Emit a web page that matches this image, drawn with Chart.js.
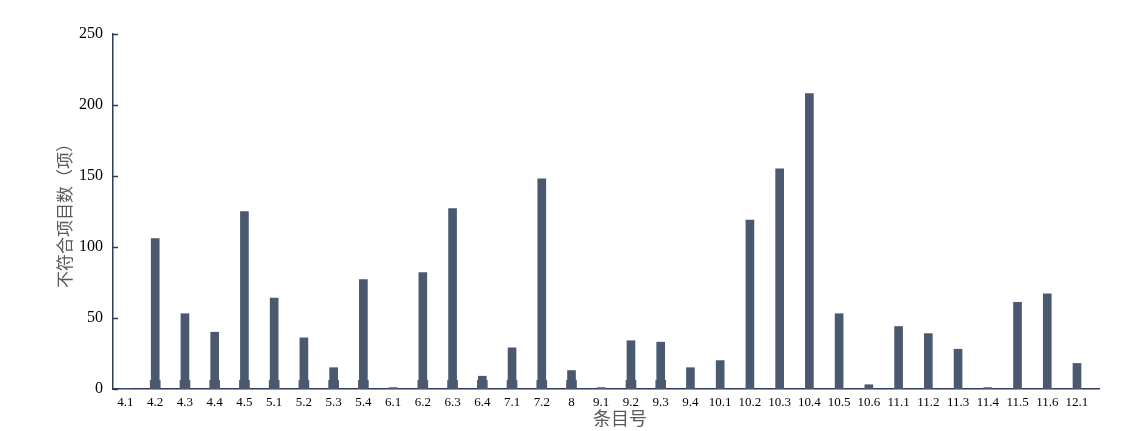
<!DOCTYPE html>
<html>
<head>
<meta charset="utf-8">
<script src="https://cdn.jsdelivr.net/npm/chart.js@4.4.1/dist/chart.umd.min.js"></script>
<style>
  html, body { margin: 0; padding: 0; background: #fff; }
  #wrap { width: 1125px; height: 431px; position: relative; }
</style>
</head>
<body>
<div id="wrap"><canvas id="items_chart"></canvas></div>
<script>
const categories = ['4.1', '4.2', '4.3', '4.4', '4.5', '5.1', '5.2', '5.3', '5.4', '6.1', '6.2',
    '6.3', '6.4', '7.1', '7.2', '8', '9.1', '9.2', '9.3', '9.4', '10.1', '10.2', '10.3', '10.4',
    '10.5', '10.6', '11.1', '11.2', '11.3', '11.4', '11.5', '11.6', '12.1'];
const counts = [0, 106, 53, 40, 125, 64, 36, 15, 77, 1, 82,
    127, 9, 29, 148, 13, 1, 34, 33, 15, 20, 119, 155, 208,
    53, 3, 44, 39, 28, 1, 61, 67, 18];
// short wider base seen under the bars of the first part of the chart
const baseCounts = [0, 6, 6, 6, 6, 6, 6, 6, 6, 0, 6,
    6, 6, 6, 6, 6, 0, 6, 6, 0, 0, 0, 0, 0,
    0, 0, 0, 0, 0, 0, 0, 0, 0];
const yTicks = [0, 50, 100, 150, 200, 250];

const barColor = '#4a5870';
const axisColor = '#2f3b58';
const serif = "'Liberation Serif', 'DejaVu Serif', serif";
const cjk = "'Noto Sans CJK SC', 'Noto Sans', sans-serif";

const innerTicks = {
    id: 'innerTicks',
    afterDraw(chart) {
        const c = chart.ctx;
        const y = chart.scales.y;
        const left = chart.chartArea.left;
        c.save();
        c.strokeStyle = axisColor;
        c.lineWidth = 1.5;
        yTicks.forEach(v => {
            const py = Math.round(y.getPixelForValue(v)) + 0.5;
            c.beginPath();
            c.moveTo(left, py);
            c.lineTo(left + 5, py);
            c.stroke();
        });
        // x axis title
        c.fillStyle = '#595959';
        c.font = "18px " + cjk;
        c.textAlign = 'center';
        c.textBaseline = 'middle';
        c.fillText('条目号', 620, 418);
        c.restore();
    }
};

const ctx = document.getElementById('items_chart');

new Chart(ctx, {
    type: 'bar',
    data: {
        datasets: [{
            label: '不符合项目数',
            data: counts.map((v, i) => ({ x: i, y: v })),
            backgroundColor: barColor,
            borderWidth: 0,
            barThickness: 8,
            grouped: false,
            order: 1
        }, {
            label: 'base',
            data: baseCounts.map((v, i) => ({ x: i, y: v })),
            backgroundColor: barColor,
            borderWidth: 0,
            barThickness: 10,
            grouped: false,
            order: 2
        }]
    },
    options: {
        responsive: true,
        maintainAspectRatio: false,
        animation: false,
        layout: {
            padding: { top: 34, right: 26, bottom: 0, left: 0 }
        },
        plugins: {
            legend: { display: false },
            tooltip: { enabled: false }
        },
        scales: {
            x: {
                type: 'linear',
                offset: false,
                min: -0.42,
                max: 32.74,
                afterBuildTicks: function(scale) {
                    scale.ticks = categories.map((_, i) => ({ value: i }));
                },
                afterFit: function(scale) {
                    scale.height = 431 - 389;
                },
                grid: { display: false, drawTicks: false },
                border: { display: true, color: axisColor, width: 1.5 },
                ticks: {
                    autoSkip: false,
                    maxRotation: 0,
                    padding: 6,
                    color: '#000',
                    font: { family: serif, size: 13 },
                    callback: function(value) {
                        return categories[value];
                    }
                }
            },
            y: {
                min: 0,
                max: 250,
                afterBuildTicks: function(scale) {
                    scale.ticks = yTicks.map(v => ({ value: v }));
                },
                afterFit: function(scale) {
                    scale.width = 113;
                },
                grid: { display: false, drawTicks: false },
                border: { display: true, color: axisColor, width: 1.5 },
                ticks: {
                    padding: 10,
                    color: '#000',
                    font: { family: serif, size: 16 }
                },
                title: {
                    display: true,
                    text: '不符合项目数（项）',
                    color: '#595959',
                    font: { family: cjk, size: 17 },
                    padding: { top: 54, bottom: 0 }
                }
            }
        }
    },
    plugins: [innerTicks]
});
</script>
</body>
</html>
